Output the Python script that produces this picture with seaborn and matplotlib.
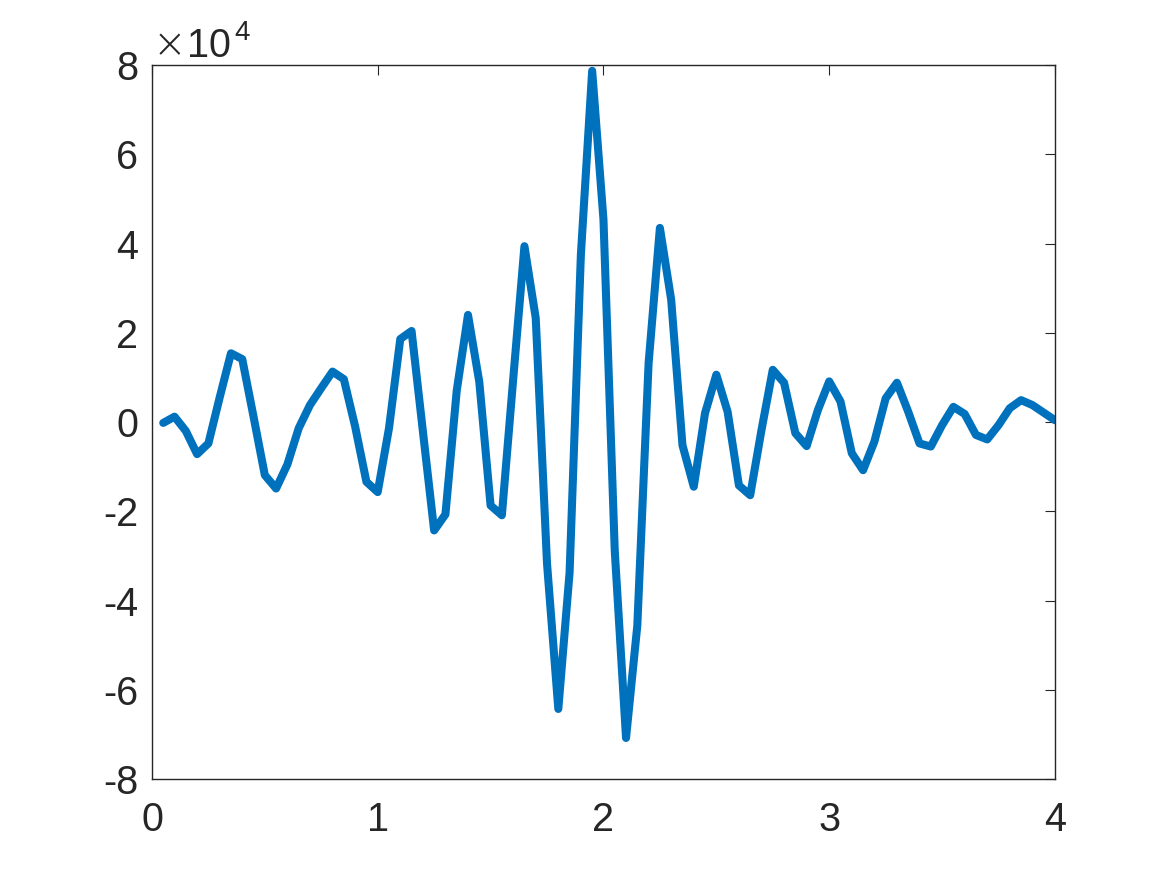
import numpy as np
import pandas as pd
import matplotlib
matplotlib.use("Agg")
import matplotlib.pyplot as plt
import seaborn as sns
from matplotlib.ticker import FuncFormatter

# signal sampled every 0.05 s, values in units of 1e4
t = np.round(np.arange(1, 81) * 0.05, 2)
amp_1e4 = [
    -0.02, 0.12, -0.20, -0.72, -0.48, 0.55, 1.54, 1.41, 0.12, -1.19,
    -1.49, -0.95, -0.14, 0.38, 0.76, 1.13, 0.96, -0.10, -1.34, -1.57,
    -0.14, 1.86, 2.04, -0.20, -2.43, -2.07, 0.70, 2.40, 0.90, -1.87,
    -2.09, 0.95, 3.94, 2.33, -3.17, -6.43, -3.37, 3.75, 7.87, 4.54,
    -2.88, -7.08, -4.56, 1.32, 4.35, 2.74, -0.52, -1.45, 0.20, 1.06,
    0.23, -1.42, -1.64, -0.18, 1.17, 0.88, -0.25, -0.54, 0.27, 0.91,
    0.46, -0.70, -1.08, -0.44, 0.53, 0.88, 0.23, -0.48, -0.55, -0.07,
    0.34, 0.18, -0.29, -0.39, -0.07, 0.31, 0.49, 0.38, 0.21, 0.04,
]
xticks = [0, 1, 2, 3, 4]
yticks = [-8e4, -6e4, -4e4, -2e4, 0, 2e4, 4e4, 6e4, 8e4]

df = pd.DataFrame({"t": t, "y": np.array(amp_1e4) * 1e4})

sns.set_style("white")
plt.rcParams["font.family"] = ["Liberation Sans", "DejaVu Sans"]
plt.rcParams["axes.unicode_minus"] = False

dark = "#262626"
fig = plt.figure(figsize=(11.67, 8.75), dpi=100)
ax = fig.add_axes([0.1302, 0.1097, 0.7738, 0.816])

sns.lineplot(data=df, x="t", y="y", ax=ax, color="#0072BD", linewidth=5.8)

ax.set_xlim(0, 4)
ax.set_ylim(-8e4, 8e4)
ax.set_xticks(xticks)
ax.set_yticks(yticks)
ax.yaxis.set_major_formatter(FuncFormatter(lambda v, p: f"{v / 1e4:.0f}"))
ax.set_xlabel("")
ax.set_ylabel("")

for s in ax.spines.values():
    s.set_visible(True)
    s.set_color(dark)
    s.set_linewidth(1.0)

ax.tick_params(direction="in", length=7, width=0.8, colors=dark,
               labelsize=28.5, top=True, right=True)
ax.tick_params(axis="x", pad=16)
ax.tick_params(axis="y", pad=10)

# exponent label, MATLAB style
fig.text(153 / 1167, 1 - 57 / 875, "\u00d7", fontsize=29, color=dark,
         ha="left", va="baseline", family=["DejaVu Sans"], weight="light")
fig.text(187 / 1167, 1 - 57 / 875, "10", fontsize=28.5, color=dark,
         ha="left", va="baseline")
fig.text(234 / 1167, 1 - 40 / 875, "4", fontsize=20, color=dark,
         ha="left", va="baseline")

plt.savefig("out.png", dpi=100)
plt.close()
